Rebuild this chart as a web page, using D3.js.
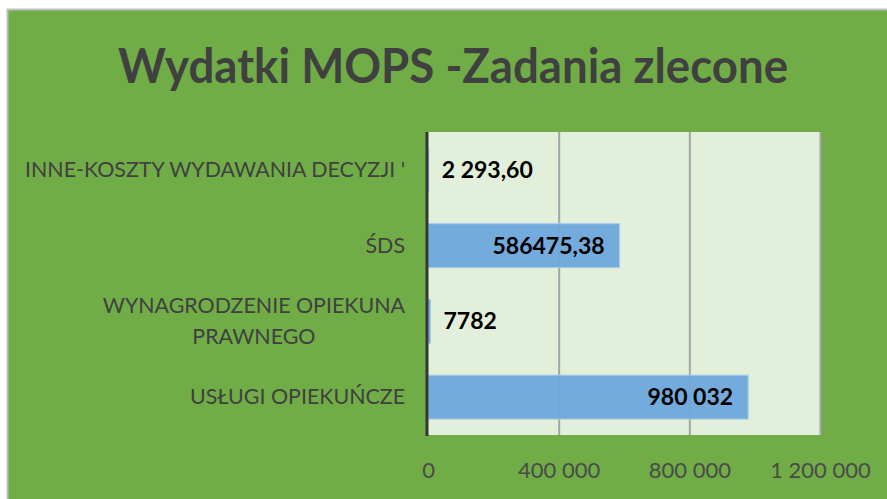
<!DOCTYPE html>
<html>
<head>
<meta charset="utf-8">
<script src="https://cdn.jsdelivr.net/npm/d3@7"></script>
<style>
  html, body { margin: 0; padding: 0; background: #fff; }
  svg { display: block; font-family: Lato, "Open Sans", sans-serif; }
</style>
</head>
<body>
<svg width="887" height="499"></svg>
<script>
const WIDTH = 887
const HEIGHT = 499

const title = 'Wydatki MOPS -Zadania zlecone'
const categories = [
  "INNE-KOSZTY WYDAWANIA DECYZJI '",
  'ŚDS',
  'WYNAGRODZENIE OPIEKUNA\nPRAWNEGO',
  'USŁUGI OPIEKUŃCZE'
]
const values = [2293.60, 586475.38, 7782, 980032]
const valueLabels = ['2 293,60', '586475,38', '7782', '980 032']
const xTicks = [0, 400000, 800000, 1200000]

const plot = { left: 428, right: 820, top: 132, bottom: 435 }

const pl = d3.formatLocale({ decimal: ',', thousands: '\u00a0', grouping: [3], currency: ['', ' zł'] })
const fmt = pl.format(',d')

const svg = d3.select('svg')
  .attr('viewBox', `0 0 ${WIDTH} ${HEIGHT}`)

// chart frame
svg.append('rect')
  .attr('x', 7.5).attr('y', 9.5)
  .attr('width', WIDTH).attr('height', HEIGHT)
  .attr('fill', '#70ad47')
  .attr('stroke', '#bfbfbf')
  .attr('stroke-width', 2)

// title
svg.append('text')
  .attr('x', 118)
  .attr('y', 83)
  .attr('font-size', 48)
  .attr('font-weight', 700)
  .attr('fill', '#404040')
  .attr('textLength', 670)
  .attr('lengthAdjust', 'spacingAndGlyphs')
  .text(title)

const x = d3.scaleLinear()
  .domain([0, 1200000])
  .range([plot.left, plot.right])

const y = d3.scaleBand()
  .domain(categories)
  .range([plot.top, plot.bottom])
  .paddingInner(0.42)
  .paddingOuter(0.21)

// plot area
svg.append('rect')
  .attr('x', plot.left).attr('y', plot.top)
  .attr('width', plot.right - plot.left)
  .attr('height', plot.bottom - plot.top)
  .attr('fill', '#e2efda')

// gridlines
const grid = svg.append('g')
  .attr('transform', `translate(0, ${plot.bottom})`)
  .call(d3.axisBottom(x).tickValues(xTicks.slice(1)).tickSize(-(plot.bottom - plot.top)).tickFormat(''))
grid.select('.domain').remove()
grid.selectAll('line').attr('stroke', '#a5a5a5').attr('stroke-width', 2)

// bars
svg.selectAll('rect.bar')
  .data(values)
  .enter()
  .append('rect')
  .attr('class', 'bar')
  .attr('x', x(0))
  .attr('y', (d, i) => y(categories[i]))
  .attr('width', d => x(d) - x(0))
  .attr('height', y.bandwidth())
  .attr('fill', '#6fa8dc')
  .attr('fill-opacity', 0.97)
  .attr('stroke', '#a9cbea')
  .attr('stroke-width', 1)

// value labels
svg.selectAll('text.val')
  .data(values)
  .enter()
  .append('text')
  .attr('class', 'val')
  .attr('font-size', 23)
  .attr('font-weight', 700)
  .attr('fill', '#000')
  .attr('y', (d, i) => y(categories[i]) + y.bandwidth() / 2 + 8)
  .attr('x', d => (x(d) - x(0) > 120 ? x(d) - 15 : x(d) + 13))
  .attr('text-anchor', d => (x(d) - x(0) > 120 ? 'end' : 'start'))
  .text((d, i) => valueLabels[i])

// left axis line
svg.append('line')
  .attr('x1', plot.left - 1).attr('x2', plot.left - 1)
  .attr('y1', plot.top).attr('y2', plot.bottom + 1)
  .attr('stroke', '#363636')
  .attr('stroke-width', 3)

// category labels
const catLabels = svg.append('g')
  .selectAll('text')
  .data(categories)
  .enter()
  .append('text')
  .attr('font-size', 21.4)
  .attr('fill', '#404040')
  .attr('text-anchor', 'middle')

catLabels.each(function(d) {
  const t = d3.select(this)
  const lines = d.split('\n')
  const lh = 31
  const cy = y(d) + y.bandwidth() / 2
  lines.forEach((line, k) => {
    t.append('tspan')
      .attr('y', cy + 7 + (k - (lines.length - 1) / 2) * lh)
      .text(line)
  })
  const w = d3.max(t.selectAll('tspan').nodes(), n => n.getComputedTextLength())
  t.selectAll('tspan').attr('x', 405 - w / 2)
})

// x axis labels
const axisX = d3.axisBottom(x)
  .tickValues(xTicks)
  .tickSize(0)
  .tickPadding(27)
  .tickFormat(fmt)

const axisXGroup = svg.append('g')
  .attr('transform', `translate(0, ${plot.bottom})`)
  .call(axisX)
axisXGroup.select('.domain').remove()
axisXGroup.selectAll('text')
  .attr('font-family', 'Lato, "Open Sans", sans-serif')
  .attr('font-size', 22)
  .attr('fill', '#4a4a4a')
</script>
</body>
</html>
